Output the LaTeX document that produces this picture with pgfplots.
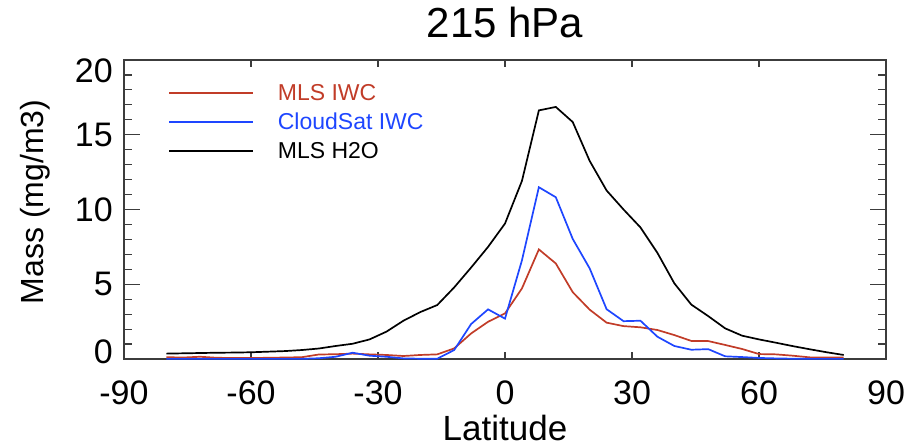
\documentclass[border=0pt]{standalone}
\usepackage{pgfplots}
\pgfplotsset{compat=1.18}
\usepackage{fontspec}
\setmainfont{Liberation Sans}
\definecolor{mlsred}{RGB}{193,60,40}
\definecolor{csblue}{RGB}{30,70,255}
\definecolor{axgray}{RGB}{60,60,60}

\pgfplotstableread{
lat h2o mls cs
-80 0.36 0.12 0.01
-76 0.38 0.10 0.01
-72 0.40 0.15 0.01
-68 0.42 0.08 0.01
-64 0.43 0.07 0.01
-60 0.45 0.07 0.01
-56 0.49 0.08 0.01
-52 0.53 0.10 0.01
-48 0.60 0.12 0.01
-44 0.70 0.30 0.05
-40 0.87 0.32 0.15
-36 1.02 0.36 0.42
-32 1.31 0.31 0.22
-28 1.83 0.27 0.15
-24 2.56 0.20 0.04
-20 3.14 0.27 0.02
-16 3.61 0.31 0.02
-12 4.79 0.71 0.60
-8 6.12 1.71 2.34
-4 7.50 2.49 3.32
0 9.06 3.05 2.70
4 11.91 4.72 6.60
8 16.63 7.33 11.49
12 16.86 6.39 10.82
16 15.85 4.47 8.03
20 13.25 3.30 6.06
24 11.27 2.43 3.33
28 10.00 2.20 2.53
32 8.80 2.12 2.56
36 7.10 1.94 1.49
40 5.06 1.60 0.87
44 3.64 1.21 0.62
48 2.87 1.20 0.66
52 2.05 0.94 0.18
56 1.56 0.67 0.13
60 1.31 0.33 0.07
64 1.09 0.31 0.04
68 0.86 0.22 0.02
72 0.65 0.11 0.01
76 0.45 0.11 0.01
80 0.27 0.11 0.01
}\datatable

\begin{document}
\begin{tikzpicture}
\path[use as bounding box] (-124bp,-87bp) rectangle (800bp,359bp);
\begin{axis}[
  at={(0,0)}, anchor=south west,
  scale only axis,
  width=762bp, height=299bp,
  xmin=-90, xmax=90, ymin=0, ymax=20,
  xtick={-90,-60,-30,0,30,60,90},
  xticklabels={-90,-60,-30,0,30,60,90},
  ytick={0,5,10,15,20},
  yticklabel={\ifcase\ticknum \raisebox{-4.9bp}[0pt][0pt]{0}\or 5\or 10\or 15\or \raisebox{-22.2bp}[0pt][0pt]{20}\fi},
  minor y tick num=4,
  tick align=inside,
  major tick length=16bp,
  minor tick length=8bp,
  xtick style={/pgfplots/major tick length=7bp},
  every tick/.style={axgray, line width=1.2bp},
  axis line style={axgray, line width=1.3bp},
  ticklabel style={font=\fontsize{34bp}{40bp}\selectfont},
  xticklabel style={anchor=base, yshift=-45bp, inner sep=0pt},
  yticklabel style={anchor=east, inner sep=0pt, xshift=-11bp},
  title={215 hPa},
  title style={at={(0.5,1)}, anchor=base, yshift=17bp, font=\fontsize{42bp}{48bp}\selectfont},
  xlabel={Latitude},
  xlabel style={at={(axis description cs:0.5,0)}, anchor=base, yshift=-81bp, inner sep=0pt, font=\fontsize{35bp}{40bp}\selectfont},
  ylabel={Mass (mg/m3)},
  ylabel style={at={(axis description cs:-0.105,0.525)}, anchor=base, font=\fontsize{32bp}{38bp}\selectfont},
  legend style={draw=none, fill=none, at={(axis description cs:0.0577,0.926)}, anchor=north west,
    font=\fontsize{23bp}{28bp}\selectfont, row sep=7bp, inner sep=0pt,
    /tikz/every odd column/.append style={column sep=22bp}},
  legend cell align=left,
  legend image code/.code={\draw[#1] (0bp,0bp) -- (84bp,0bp);},
]
\addplot[mlsred, line width=1.7bp] table[x=lat, y=mls] {\datatable};
\addlegendentry{\textcolor{mlsred}{MLS IWC}}
\addplot[csblue, line width=1.7bp] table[x=lat, y=cs] {\datatable};
\addlegendentry{\textcolor{csblue}{CloudSat IWC}}
\addplot[black, line width=1.7bp] table[x=lat, y=h2o] {\datatable};
\addlegendentry{\textcolor{black}{MLS H2O}}
\end{axis}
\end{tikzpicture}
\end{document}
